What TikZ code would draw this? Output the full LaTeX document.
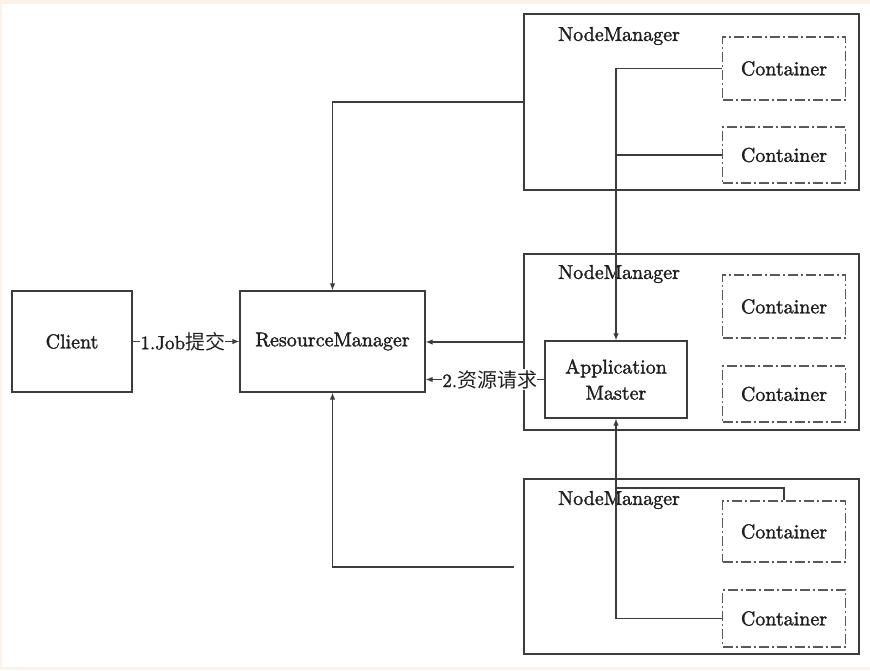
\documentclass[tikz,border=0pt]{standalone}
\usepackage{fontspec}
\setmainfont{lmroman10-regular}[Extension=.otf, BoldFont=lmroman10-regular, BoldFeatures={FakeBold=1.6}]
\newfontfamily\cjk{Noto Sans CJK SC}
\usetikzlibrary{arrows.meta}
\definecolor{ln}{HTML}{3C3C3C}
\definecolor{tx}{HTML}{1E1E1E}
\definecolor{bgp}{HTML}{FBF3EA}
\newcommand\zh[1]{{\cjk\mdseries\fontsize{20}{22}\selectfont #1}}
\begin{document}
\begin{tikzpicture}[x=1pt,y=-1pt,
  box/.style={draw=ln,line width=1.2pt,minimum width=#1,inner sep=0pt,text=tx,font=\fontsize{20}{23}\selectfont\bfseries},
  cont/.style={draw=ln!85,line width=1.1pt,dash pattern=on 10pt off 3pt on 2pt off 3pt,minimum width=123pt,inner sep=0pt,text=tx,font=\fontsize{20}{23}\selectfont\bfseries},
  conn/.style={draw=ln,line width=1.2pt},
  arr/.style={conn,-{Latex[length=7pt,width=5.5pt]}},
  lbl/.style={fill=white,inner xsep=0pt,inner ysep=1pt,text=tx,font=\fontsize{19}{22}\selectfont\bfseries},
  nmlabel/.style={anchor=west,text=tx,inner sep=0pt,font=\fontsize{20}{23}\selectfont\bfseries}]
\fill[bgp] (0,0) rectangle (870,670);
\fill[white] (2,4) rectangle (870,667);
\useasboundingbox (0,0) rectangle (870,670);

% main nodes
\node[box=120pt,minimum height=101pt] (client) at (72,341.5) {Client};
\node[box=185pt,minimum height=101pt] (rm) at (332.5,341.5) {ResourceManager};

% NodeManagers
\node[box=335pt,minimum height=176pt] (nm1) at (691.5,102) {};
\node[box=335pt,minimum height=176pt] (nm2) at (691.5,342) {};
\node[box=335pt,minimum height=175pt] (nm3) at (691.5,566.5) {};
\node[nmlabel] (nm1l) at (558,36) {NodeManager};
\node[nmlabel] (nm2l) at (558,274) {NodeManager};
\node[nmlabel] (nm3l) at (558,500) {NodeManager};

% Containers
\node[cont,minimum height=63pt] (c1a) at (784,68.5) {Container};
\node[cont,minimum height=56pt] (c1b) at (784,155) {Container};
\node[cont,minimum height=63pt] (c2a) at (784,306.5) {Container};
\node[cont,minimum height=56pt] (c2b) at (784,394) {Container};
\node[cont,minimum height=61pt] (c3a) at (784,531.5) {Container};
\node[cont,minimum height=57pt] (c3b) at (784,618.5) {Container};

% Application Master
\node[box=142pt,minimum height=77pt,align=center,font=\fontsize{20}{26}\selectfont\bfseries] (am) at (616,379.5) {Application\\Master};

% connectors
\draw[arr] (client.east) -- node[lbl,pos=0.47] (l1) {1.Job\zh{提交}} (rm.west);
\draw[arr] (am.west) -- node[lbl,pos=0.46] (l2) {2.\zh{资源请求}} (am.west -| rm.east);
\draw[arr] (nm2.west) -- (nm2.west -| rm.east);
\draw[arr] (nm1.west) -| (rm.north);
\coordinate (b3) at (514,567);
\draw[arr] (b3) -| (rm.south);

\draw[arr] (c1a.west) -| (am.north);
\draw[conn] (c1b.west) -- (c1b.west -| am.north);
\draw[arr] (c3b.west) -| (am.south);
\coordinate (br) at (616,488);
\draw[conn] (br) -| (c3a.north);
\end{tikzpicture}
\end{document}
